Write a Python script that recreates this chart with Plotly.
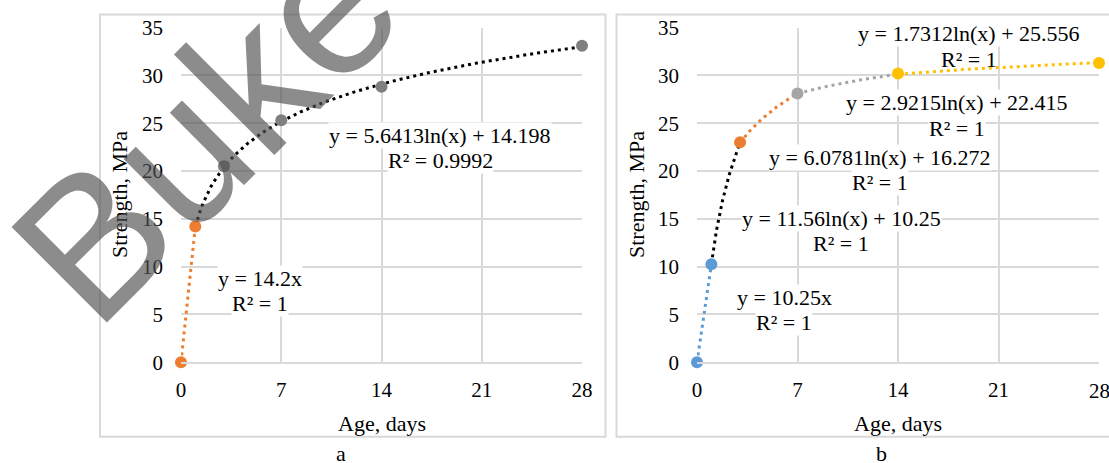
import numpy as np
import plotly.graph_objects as go

W, H = 1109, 463

# ---------------- data ----------------
age_days = [0, 1, 3, 7, 14, 28]
strength_a = [0, 14.2, 20.5, 25.3, 28.8, 33.1]
strength_b = [0, 10.25, 23.0, 28.1, 30.2, 31.3]

# trend-line coefficients shown in the chart
a_lin_slope = 14.2
a_log_coef = [5.6413, 14.198]            # y = a ln(x) + b, over 1..28
b_lin_slope = 10.25
b_log_coefs = [[11.56, 10.25], [6.0781, 16.272], [2.9215, 22.415], [1.7312, 25.556]]
b_log_ranges = [[1, 3], [3, 7], [7, 14], [14, 28]]

x_ticks = [0, 7, 14, 21, 28]
y_ticks = [0, 5, 10, 15, 20, 25, 30, 35]

eq_a = [["y = 14.2x", "R² = 1"], ["y = 5.6413ln(x) + 14.198", "R² = 0.9992"]]
eq_b = [["y = 10.25x", "R² = 1"], ["y = 11.56ln(x) + 10.25", "R² = 1"],
        ["y = 6.0781ln(x) + 16.272", "R² = 1"], ["y = 2.9215ln(x) + 22.415", "R² = 1"],
        ["y = 1.7312ln(x) + 25.556", "R² = 1"]]

# ---------------- styles ----------------
ORANGE = "#ED7D31"
BLUE = "#5B9BD5"
GRAY = "#A5A5A5"
YELLOW = "#FFC000"
DARK = "#7F7F7F"
GRID = "#D9D9D9"
FONT = "Liberation Serif"


def px(x):
    return x / W


def py(y):
    return 1 - y / H


fig = go.Figure()


def trend(xs, ys, color, xa, ya):
    fig.add_trace(go.Scatter(x=xs, y=ys, mode="lines", xaxis=xa, yaxis=ya,
                             line=dict(color=color, width=3, dash="3px,4px"),
                             cliponaxis=False, showlegend=False, hoverinfo="skip"))


def pts(xs, ys, color, xa, ya):
    fig.add_trace(go.Scatter(x=xs, y=ys, mode="markers", xaxis=xa, yaxis=ya,
                             marker=dict(color=color, size=12),
                             cliponaxis=False, showlegend=False))


# ---- panel a ----
xl = np.array([0, 1])
trend(xl, a_lin_slope * xl, ORANGE, "x", "y")
xg = np.linspace(1, 28, 200)
trend(xg, a_log_coef[0] * np.log(xg) + a_log_coef[1], "#000000", "x", "y")
pts(age_days[:2], strength_a[:2], ORANGE, "x", "y")
pts(age_days[2:], strength_a[2:], DARK, "x", "y")

# ---- panel b ----
trend(xl, b_lin_slope * xl, BLUE, "x2", "y2")
seg_colors = ["#000000", ORANGE, GRAY, YELLOW]
for (c, (a, b)), (lo, hi) in zip(zip(seg_colors, b_log_coefs), b_log_ranges):
    xs = np.linspace(lo, hi, 120)
    trend(xs, a * np.log(xs) + b, c, "x2", "y2")
pts(age_days[:2], strength_b[:2], BLUE, "x2", "y2")
pts([age_days[2]], [strength_b[2]], ORANGE, "x2", "y2")
pts([age_days[3]], [strength_b[3]], GRAY, "x2", "y2")
pts(age_days[4:], strength_b[4:], YELLOW, "x2", "y2")

# ---------------- axes ----------------
ydom = [py(362.3), py(27.5)]
common_x = dict(range=[0, 28], tickvals=x_ticks, showgrid=True, gridcolor=GRID,
                gridwidth=1.5, zeroline=False, showline=True, linecolor=GRID,
                linewidth=1.5, ticks="", ticklabelstandoff=8, automargin=False,
                tickfont=dict(family=FONT, size=21, color="#000"))
common_y = dict(range=[0, 35], tickvals=y_ticks, showgrid=True, gridcolor=GRID,
                gridwidth=1.5, zeroline=False, showline=False, ticks="",
                ticklabelstandoff=17, domain=ydom, automargin=False,
                tickfont=dict(family=FONT, size=21, color="#000"))

fig.update_layout(
    template="none",
    width=W, height=H, autosize=False, margin=dict(l=0, r=0, t=0, b=0, pad=0),
    paper_bgcolor="white", plot_bgcolor="white", showlegend=False,
    font=dict(family=FONT, size=21, color="#000"),
    xaxis=dict(domain=[px(181), px(582)], anchor="y", **common_x),
    yaxis=dict(anchor="x", **common_y),
    xaxis2=dict(domain=[px(697), px(1099)], anchor="y2", **common_x),
    yaxis2=dict(anchor="x2", **common_y),
)

# ---------------- outer panel boxes ----------------
for x0, x1 in [(100, 605.5), (616.5, 1112)]:
    fig.add_shape(type="rect", xref="paper", yref="paper",
                  x0=px(x0), x1=px(x1), y0=py(436.7), y1=py(14.5),
                  line=dict(color=GRID, width=2), fillcolor="rgba(0,0,0,0)", layer="below")

# ---------------- text ----------------
def text(x, y, s, size=22, angle=0, bg=None, xref="paper"):
    fig.add_annotation(x=px(x) if xref == "paper" else x, y=py(y), xref=xref, yref="paper",
                       text=s, showarrow=False, textangle=angle, xanchor="center",
                       yanchor="middle", font=dict(family=FONT, size=size, color="#000"),
                       bgcolor=bg, borderpad=0)


text(381.5, 423, "Age, days")
text(898, 423, "Age, days")
text(120, 195, "Strength, MPa", angle=-90)
text(637, 195, "Strength, MPa", angle=-90)
text(341, 453, "a")
text(881, 453, "b")
# last x tick label of panel b runs off the page edge (plotly drops it), place it explicitly
text(x_ticks[-1], 391, str(x_ticks[-1]), size=21, xref="x2")

# equation labels: (x centre, y of first line, y of second line)
pos_a = [(260, 278, 303), (440, 135, 161)]
pos_b = [(784, 297, 322), (841, 218, 243), (880, 157, 182), (957, 103, 128), (969, 34, 60)]
for (x, y1, y2), (l1, l2) in zip(pos_a + pos_b, eq_a + eq_b):
    text(x, y1, l1, bg="white")
    text(x, y2, l2, bg=None if (x, y1) == (969, 34) else "white")

# watermark
fig.add_annotation(x=px(205), y=py(128), xref="paper", yref="paper", text="Buke",
                   showarrow=False, textangle=-45, xanchor="center", yanchor="middle",
                   font=dict(family="Liberation Sans", size=196, color="rgba(80,80,80,0.66)"))

fig.write_html("out.html", config={"displayModeBar": False},
               post_script="document.body.style.margin='0px';document.body.style.overflow='hidden';")
